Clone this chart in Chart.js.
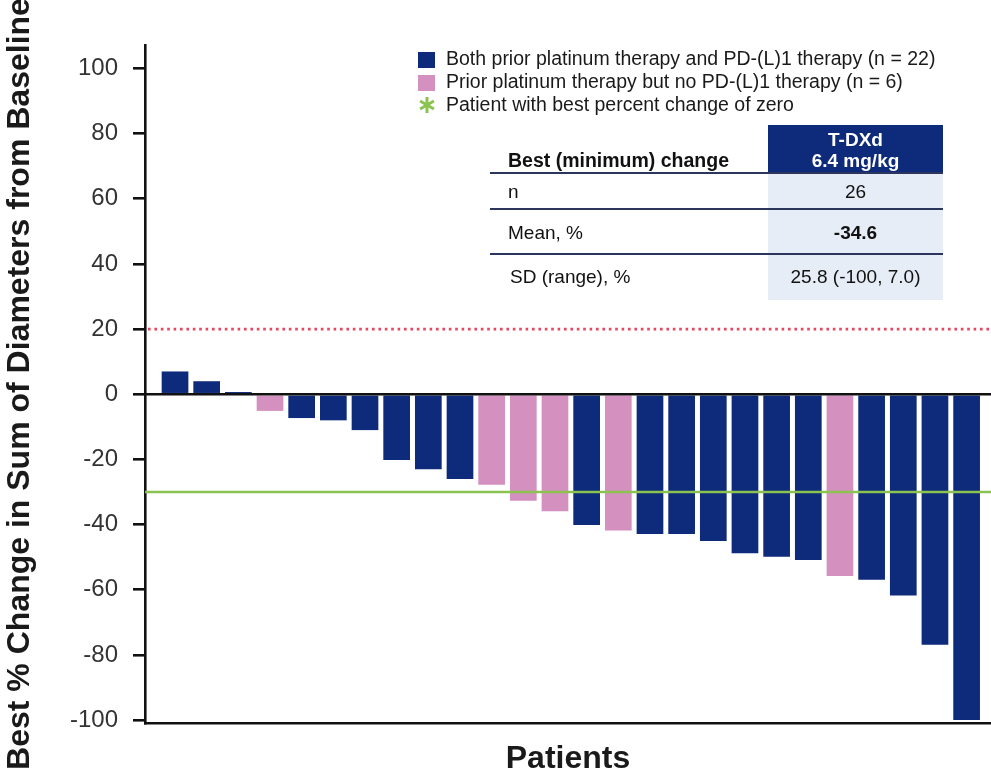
<!DOCTYPE html>
<html>
<head>
<meta charset="utf-8">
<script src="https://cdn.jsdelivr.net/npm/chart.js@4.4.1/dist/chart.umd.min.js"></script>
<style>
  html, body { margin: 0; padding: 0; background: #ffffff; }
  #wrap { width: 991px; height: 775px; position: relative; overflow: hidden; }
</style>
</head>
<body>
<div id="wrap"><canvas id="c" width="991" height="775"></canvas></div>
<script>
// ---------------- DATA ----------------
const patients = [1,2,3,4,5,6,7,8,9,10,11,12,13,14,15,16,17,18,19,20,21,22,23,24,25,26];
const bestChange = [7.0, 4.0, 0.7, -5.1, -7.3, -8.0, -11.0, -20.2, -23.0, -26.0, -27.8, -32.7, -35.9,
                    -40.1, -41.8, -42.9, -42.9, -45.0, -48.8, -49.9, -50.9, -55.8, -56.9, -61.8, -76.9, -100.0];
const priorTherapy = ['both','both','both','platinum','both','both','both','both','both','both','platinum','platinum','platinum',
                      'both','platinum','both','both','both','both','both','both','platinum','both','both','both','both'];
const groupKeys = ['both', 'platinum'];
const groupLabels = ['Both prior platinum therapy and PD-(L)1 therapy (n = 22)',
                     'Prior platinum therapy but no PD-(L)1 therapy (n = 6)'];
const zeroLegendLabel = 'Patient with best percent change of zero';
const yTickValues = [100, 80, 60, 40, 20, 0, -20, -40, -60, -80, -100];
const progressionLine = 20;
const responseLine = -30;
const tableTitle = 'Best (minimum) change';
const tableHeader = ['T-DXd', '6.4 mg/kg'];
const tableRowLabels = ['n', 'Mean, %', 'SD (range), %'];
const tableRowValues = ['26', '-34.6', '25.8 (-100, 7.0)'];

// ---------------- STYLE ----------------
const NAVY = '#0e2a7b';
const PINK = '#d490bf';
const GREEN = '#8cc350';
const RED = '#e5475c';
const FONT = "'Liberation Sans', Arial, Helvetica, sans-serif";
const groupColors = { both: NAVY, platinum: PINK };

const datasets = groupKeys.map((g, gi) => ({
  label: groupLabels[gi],
  data: patients.map((p, i) => ({ x: p, y: bestChange[i] })).filter((d, i) => priorTherapy[i] === g),
  backgroundColor: groupColors[g],
  borderWidth: 0,
  grouped: false,
  barPercentage: 0.843,
  categoryPercentage: 1.0
}));

const refLinesPlugin = {
  id: 'refLines',
  afterDatasetsDraw(chart) {
    const { ctx, chartArea } = chart;
    const y = chart.scales.y;
    ctx.save();
    // progression threshold (dotted red)
    let py = y.getPixelForValue(progressionLine);
    ctx.strokeStyle = RED; ctx.lineWidth = 2.6; ctx.setLineDash([2.6, 3.8]);
    ctx.beginPath(); ctx.moveTo(chartArea.left + 3, py); ctx.lineTo(chartArea.right, py); ctx.stroke();
    ctx.setLineDash([]);
    // response threshold (green)
    py = y.getPixelForValue(responseLine);
    ctx.strokeStyle = GREEN; ctx.lineWidth = 2.6;
    ctx.beginPath(); ctx.moveTo(chartArea.left, py); ctx.lineTo(chartArea.right, py); ctx.stroke();
    // zero line
    py = y.getPixelForValue(0);
    ctx.strokeStyle = '#111'; ctx.lineWidth = 2.6;
    ctx.beginPath(); ctx.moveTo(chartArea.left, py); ctx.lineTo(chartArea.right, py); ctx.stroke();
    ctx.restore();
  },
  afterDraw(chart) {
    const { ctx } = chart;
    ctx.save();
    // ---- legend ----
    ctx.font = '19.5px ' + FONT;
    ctx.textBaseline = 'middle';
    ctx.textAlign = 'left';
    const lx = 418, tx = 446, ly = [60, 83, 106];
    groupKeys.forEach((g, i) => {
      ctx.fillStyle = groupColors[g];
      ctx.fillRect(lx, ly[i] - 8, 17, 16);
      ctx.fillStyle = '#1a1a1a';
      ctx.fillText(groupLabels[i], tx, ly[i]);
    });
    // green asterisk
    ctx.strokeStyle = GREEN; ctx.lineWidth = 3;
    const cx = 427, cy = ly[2] - 1, r = 8;
    [90, 30, 150].forEach(a => {
      const rad = a * Math.PI / 180;
      ctx.beginPath();
      ctx.moveTo(cx - r * Math.cos(rad), cy - r * Math.sin(rad));
      ctx.lineTo(cx + r * Math.cos(rad), cy + r * Math.sin(rad));
      ctx.stroke();
    });
    ctx.fillStyle = '#1a1a1a';
    ctx.fillText(zeroLegendLabel, tx, ly[2]);

    // ---- table ----
    const colL = 768, colR = 943, colC = (colL + colR) / 2;
    const lineL = 490;
    ctx.fillStyle = '#e7edf7';
    ctx.fillRect(colL, 173, colR - colL, 127);
    ctx.fillStyle = NAVY;
    ctx.fillRect(colL, 125, colR - colL, 48);
    ctx.fillStyle = '#ffffff';
    ctx.textAlign = 'center';
    ctx.font = 'bold 19px ' + FONT;
    ctx.fillText(tableHeader[0], colC, 141);
    ctx.fillText(tableHeader[1], colC, 162);
    ctx.fillStyle = '#111';
    ctx.textAlign = 'left';
    ctx.font = 'bold 19.5px ' + FONT;
    ctx.fillText(tableTitle, 508, 162);
    ctx.strokeStyle = '#2c365c'; ctx.lineWidth = 2;
    [173, 209, 254].forEach(yy => {
      ctx.beginPath(); ctx.moveTo(lineL, yy); ctx.lineTo(colR, yy); ctx.stroke();
    });
    const rowY = [193, 234, 278];
    tableRowLabels.forEach((lab, i) => {
      ctx.font = '19px ' + FONT;
      ctx.textAlign = 'left';
      ctx.fillStyle = '#111';
      ctx.fillText(lab, i === 2 ? 510 : 508, rowY[i]);
      ctx.textAlign = 'center';
      ctx.font = (i === 1 ? 'bold ' : '') + '19px ' + FONT;
      ctx.fillText(tableRowValues[i], colC, rowY[i]);
    });
    ctx.restore();
  }
};

new Chart(document.getElementById('c'), {
  type: 'bar',
  data: { datasets },
  options: {
    responsive: false,
    animation: false,
    devicePixelRatio: 1,
    layout: { padding: { top: 45, right: 0, bottom: 0, left: 0 } },
    plugins: { legend: { display: false }, tooltip: { enabled: false }, title: { display: false } },
    scales: {
      x: {
        type: 'linear',
        offset: false,
        min: 0.052,
        max: 26.77,
        ticks: { display: false },
        grid: { display: true, drawOnChartArea: false, drawTicks: false, color: 'rgba(0,0,0,0)', offset: false },
        border: { display: true, color: '#111', width: 2.6 },
        title: {
          display: true, text: 'Patients', color: '#1a1a1a',
          font: { family: FONT, size: 32, weight: 'bold' },
          padding: { top: 16.6, bottom: -3 }
        }
      },
      y: {
        min: -100.9,
        max: 107.2,
        afterBuildTicks: (axis) => { axis.ticks = yTickValues.map(v => ({ value: v })); },
        afterFit: (axis) => { axis.width = 145; },
        ticks: { color: '#333', font: { family: FONT, size: 24 }, padding: 15 },
        grid: { drawOnChartArea: false, drawTicks: true, tickLength: 12, color: '#111', lineWidth: 2.6 },
        border: { display: true, color: '#111', width: 2.6 },
        title: {
          display: true, text: 'Best % Change in Sum of Diameters from Baseline', color: '#1a1a1a',
          font: { family: FONT, size: 32, weight: 'bold' },
          padding: { top: 1, bottom: 0 }
        }
      }
    }
  },
  plugins: [refLinesPlugin]
});
</script>
</body>
</html>
